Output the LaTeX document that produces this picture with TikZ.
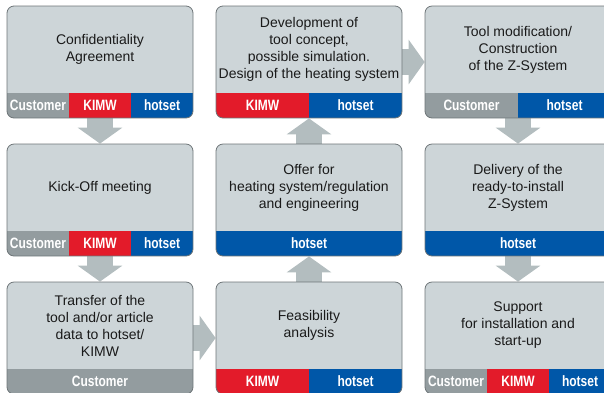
\documentclass[tikz,border=0pt]{standalone}
\usepackage{fontspec}
\setmainfont{Liberation Sans}
\newfontfamily\bandfont[FakeStretch=0.8]{Liberation Sans}
\usetikzlibrary{arrows.meta,calc,backgrounds}

\definecolor{stagefill}{RGB}{205,213,216}
\definecolor{stageline}{RGB}{110,117,120}
\definecolor{stageink}{RGB}{26,26,26}
\definecolor{custgrey}{RGB}{147,156,159}
\definecolor{kimwred}{RGB}{227,27,42}
\definecolor{hotblue}{RGB}{0,87,168}
\definecolor{flowgrey}{RGB}{179,189,191}

\tikzstyle{stage}=[draw=stageline, line width=0.8pt, fill=stagefill, rounded corners=7pt, minimum width=186pt, minimum height=112pt, inner sep=0pt]
\tikzstyle{stagetext}=[align=center, inner sep=0pt, text=stageink, font=\fontsize{14}{17}\selectfont]
\tikzstyle{party}=[draw=none, inner sep=0pt, text=white, font=\bandfont\bfseries\fontsize{15}{15}\selectfont]
\tikzstyle{flow}=[draw=flowgrey, line width=26pt, -{Triangle[width=44pt,length=16pt]}]

% coloured strip of the parties at the foot of a stage: #1 = count, #2 = colour/name list
\newcommand\bands[2]{%
  \foreach \pcol/\pname [count=\k] in {#2} {
    \coordinate (bl) at ($(path picture bounding box.south west)!{(\k-1)/#1}!(path picture bounding box.south east)$);
    \coordinate (tr) at ($(path picture bounding box.south west)!{\k/#1}!(path picture bounding box.south east) + (0pt,25pt)$);
    \fill[\pcol, sharp corners] (bl) rectangle (tr);
    \node[party] at ($(bl)!0.5!(tr)$) {\pname};
  }}

\begin{document}
\begin{tikzpicture}[x=1pt, y=-1pt]
  \path[use as bounding box, clip] (0,0) rectangle (604,392);

  % column 1
  \node[stage, path picture={\bands{3}{custgrey/Customer, kimwred/KIMW, hotblue/hotset}}] (conf) at (100,62) {};
  \node[stagetext] (conf-text) at ([yshift=12.5pt]conf.center) {Confidentiality\\Agreement};
  \node[stage, path picture={\bands{3}{custgrey/Customer, kimwred/KIMW, hotblue/hotset}}] (kick) at (100,200) {};
  \node[stagetext] (kick-text) at ([yshift=12.5pt]kick.center) {Kick-Off meeting};
  \node[stage, path picture={\bands{1}{custgrey/Customer}}] (transfer) at (100,338) {};
  \node[stagetext] (transfer-text) at ([yshift=12.5pt]transfer.center) {Transfer of the\\tool and/or article\\data to hotset/\\KIMW};

  % column 2
  \node[stage, path picture={\bands{2}{kimwred/KIMW, hotblue/hotset}}] (feasib) at (309,338) {};
  \node[stagetext] (feasib-text) at ([yshift=12.5pt]feasib.center) {Feasibility\\analysis};
  \node[stage, path picture={\bands{1}{hotblue/hotset}}] (offer) at (309,200) {};
  \node[stagetext] (offer-text) at ([yshift=12.5pt]offer.center) {Offer for\\heating system/regulation\\and engineering};
  \node[stage, path picture={\bands{2}{kimwred/KIMW, hotblue/hotset}}] (develop) at (309,62) {};
  \node[stagetext] (develop-text) at ([yshift=12.5pt]develop.center) {Development of\\tool concept,\\possible simulation.\\Design of the heating system};

  % column 3
  \node[stage, path picture={\bands{2}{custgrey/Customer, hotblue/hotset}}] (toolmod) at (518,62) {};
  \node[stagetext] (toolmod-text) at ([yshift=12.5pt]toolmod.center) {Tool modification/\\Construction\\of the Z-System};
  \node[stage, path picture={\bands{1}{hotblue/hotset}}] (delivery) at (518,200) {};
  \node[stagetext] (delivery-text) at ([yshift=12.5pt]delivery.center) {Delivery of the\\ready-to-install\\Z-System};
  \node[stage, path picture={\bands{3}{custgrey/Customer, kimwred/KIMW, hotblue/hotset}}] (support) at (518,338) {};
  \node[stagetext] (support-text) at ([yshift=12.5pt]support.center) {Support\\for installation and\\start-up};

  \begin{scope}[on background layer]
    \foreach \source/\sink in {conf/kick, kick/transfer, transfer/feasib, feasib/offer, offer/develop, develop/toolmod, toolmod/delivery, delivery/support} {
      \path[flow] (\source) -- (\sink);
    }
  \end{scope}
\end{tikzpicture}
\end{document}
